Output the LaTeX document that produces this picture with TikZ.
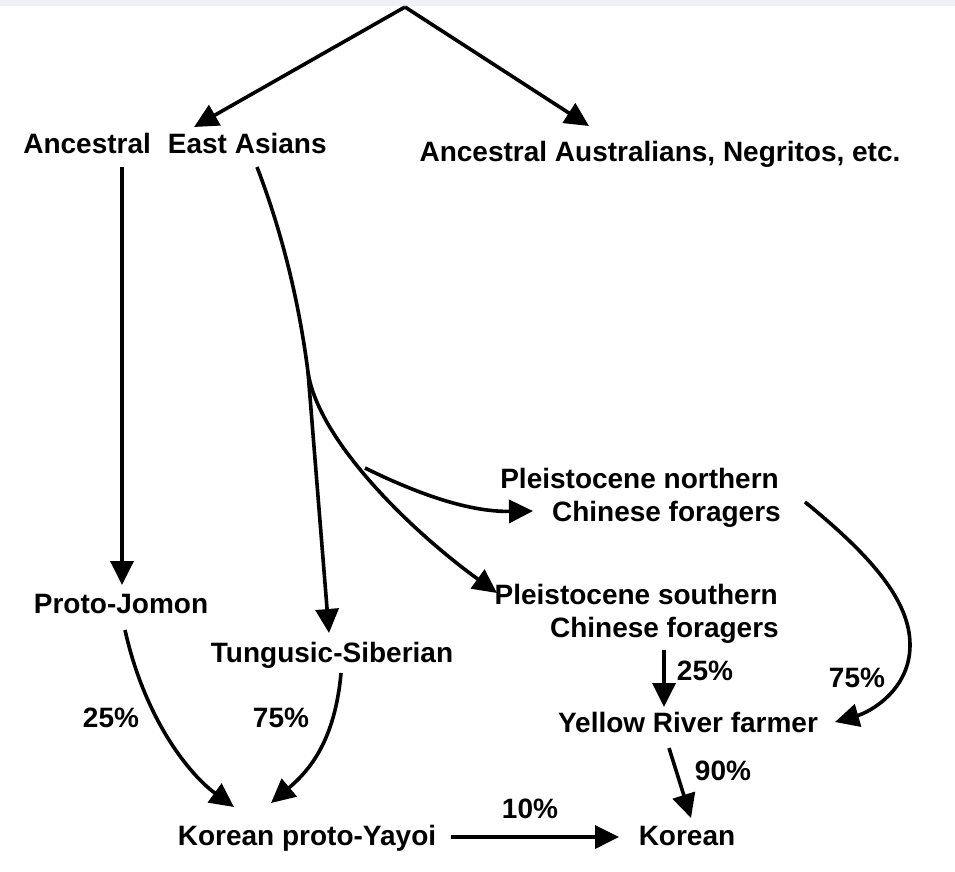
\documentclass[tikz,border=0pt]{standalone}
\usepackage{fontspec}
\setmainfont{Liberation Sans}
\usetikzlibrary{arrows.meta}
\definecolor{stripcol}{RGB}{238,241,246}
\begin{document}
\begin{tikzpicture}[x=1pt,y=-1pt,
  lbl/.style={font=\fontsize{28}{34}\selectfont\bfseries, inner sep=0pt, anchor=base},
  arr/.style={line width=3.6pt, -{Triangle[length=24pt,width=23pt]}},
  ln/.style={line width=3.6pt},
]
\fill[white] (0,0) rectangle (955,871);
\useasboundingbox (0,0) rectangle (955,871);
\fill[stripcol] (0,0) rectangle (955,6);

% nodes
\node[lbl] (ae) at (175,153) {Ancestral\hspace{17pt}East Asians};
\node[lbl] (aa) at (660,161) {Ancestral Australians, Negritos, etc.};
\node[lbl,anchor=base east] (pn) at (779,488) {Pleistocene northern};
\node[lbl,anchor=base east] (pn2) at (781,521) {Chinese foragers};
\node[lbl,anchor=base east] (ps) at (778,604) {Pleistocene southern};
\node[lbl,anchor=base east] (ps2) at (779,637) {Chinese foragers};
\node[lbl] (pj) at (121,613) {Proto-Jomon};
\node[lbl] (ts) at (332,662) {Tungusic-Siberian};
\node[lbl] (yr) at (688,732) {Yellow River farmer};
\node[lbl] (kpy) at (307,845) {Korean proto-Yayoi};
\node[lbl] (ko) at (687,845) {Korean};

\node[lbl] (p25a) at (111,727) {25\%};
\node[lbl] (p75a) at (281,727) {75\%};
\node[lbl] (p25b) at (705,680) {25\%};
\node[lbl] (p75b) at (857,687) {75\%};
\node[lbl] (p90) at (723,780) {90\%};
\node[lbl] (p10) at (530,818) {10\%};

% connector end points
\coordinate (apex) at (405,7);
\coordinate (aeIn) at (194,127);
\coordinate (aaIn) at (589,126);
\coordinate (aeOutL) at (122,167);
\coordinate (pjIn) at (122,585);
\coordinate (aeOutR) at (257,167);
\coordinate (br1) at (308,372);
\coordinate (br2) at (365,468);
\coordinate (tsIn) at (329,633);
\coordinate (psIn) at (497,593);
\coordinate (pnIn) at (533,511);
\coordinate (pjOut) at (125,630);
\coordinate (kpyInL) at (234,807);
\coordinate (tsOut) at (341,673);
\coordinate (kpyInR) at (271,803);
\coordinate (pnOut) at (805,502);
\coordinate (pnMid) at (910,645);
\coordinate (yrInR) at (835,722);
\coordinate (psOut) at (664,650);
\coordinate (yrIn) at (664,707);
\coordinate (yrOut) at (669,748);
\coordinate (koIn) at (691,818);
\coordinate (kpyOut) at (451,837);
\coordinate (koInL) at (619,837);

% connectors
\draw[arr] (apex) -- (aeIn);
\draw[arr] (apex) -- (aaIn);
\draw[arr] (aeOutL) -- (pjIn);
\draw[ln] (aeOutR) .. controls (285,240) and (300,310) .. (br1);
\draw[arr] (br1) .. controls (318,440) and (410,530) .. (psIn);
\draw[arr] (br1) -- (tsIn);
\draw[arr] (br2) .. controls (420,495) and (470,512) .. (pnIn);
\draw[arr] (pjOut) .. controls (145,720) and (190,775) .. (kpyInL);
\draw[arr] (tsOut) .. controls (335,740) and (310,770) .. (kpyInR);
\draw[arr] (pnOut) .. controls (870,555) and (910,600) .. (pnMid)
  .. controls (910,690) and (870,712) .. (yrInR);
\draw[arr] (psOut) -- (yrIn);
\draw[arr] (yrOut) -- (koIn);
\draw[arr] (kpyOut) -- (koInL);
\end{tikzpicture}
\end{document}
